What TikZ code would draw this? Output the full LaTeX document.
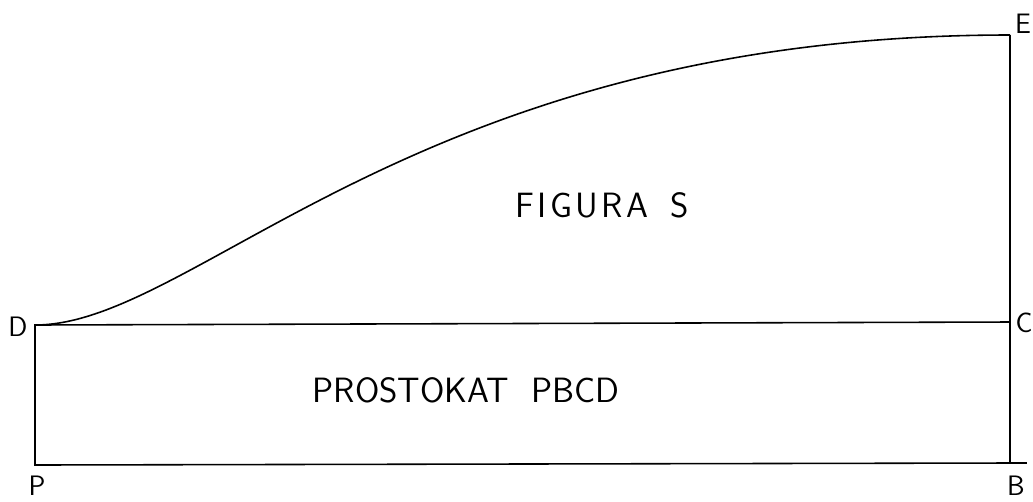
\documentclass[tikz,border=0pt]{standalone}
\usepackage{tikz}
\usetikzlibrary{positioning,calc}

\begin{document}
\begin{tikzpicture}[
        x=0.02cm, y=-0.02cm,
        edge/.style={draw, line width=0.9pt},
        pointlabel/.style={font=\sffamily\fontsize{16}{16}\selectfont, inner sep=1pt},
        arealabel/.style={font=\sffamily\fontsize{20}{20}\selectfont, inner sep=0pt}
    ]
    \useasboundingbox (0,0) rectangle (1033,501);

    % Corner points
    \coordinate (P) at (35,465);
    \coordinate (B) at (1010,463);
    \coordinate (C) at (1010,322);
    \coordinate (D) at (35,325);
    \coordinate (E) at (1010,35);
    \coordinate (Bend) at (1027,463);

    % Point labels
    \node[pointlabel] (lP) at (37,486) {P};
    \node[pointlabel] (lB) at (1016,486) {B};
    \node[pointlabel] (lC) at (1024,323) {C};
    \node[pointlabel] (lD) at (18,327) {D};
    \node[pointlabel] (lE) at (1023,24) {E};

    % Rectangle PBCD and side CE
    \draw[edge] (D) -- (P) -- (B) -- (C) -- cycle;
    \draw[edge] (B) -- (Bend);
    \draw[edge] (C) -- (E);

    % Curve DE
    \draw[edge] (D) .. controls (197,325) and (415,35) .. (E);

    % Area names
    \node[arealabel] (figS) at (602,205) {F\kern2pt I\kern2pt G\kern2pt U\kern2pt R\kern2pt A\ \ S};
    \node[arealabel] (rect) at (466,390) {PROSTOKAT\ \ PBCD};
\end{tikzpicture}
\end{document}
